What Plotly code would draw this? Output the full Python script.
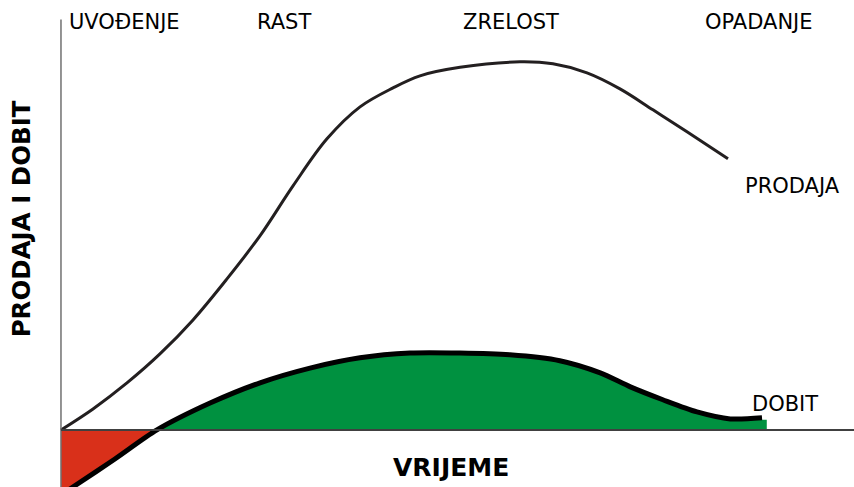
import plotly.graph_objects as go

# Time axis (arbitrary units 0..100), value axis (0..100 = peak sales)
sales_t = [0, 4.04, 8.32, 12.48, 16.65, 20.93, 25.09, 29.26, 33.54, 37.71, 41.87, 45.27, 50.32, 57.88, 62.04, 66.33, 70.49, 74.65, 78.94, 84.11]
sales_v = [0, 5.71, 12.77, 20.65, 29.89, 41.03, 52.72, 66.30, 79.08, 87.77, 92.93, 96.20, 98.51, 100, 99.46, 97.01, 92.66, 86.96, 80.98, 73.64]

loss_t = [0, 1.5, 6.8, 12.1]
loss_v = [-17.7, -15.5, -7.9, 0]

profit_t = [12.1, 18.8, 25.1, 31.4, 37.7, 44.0, 50.3, 56.6, 62.9, 68.0, 71.8, 75.9, 80.2, 84.4, 88.4]
profit_v = [0, 7.3, 12.8, 16.8, 19.6, 20.9, 20.9, 20.4, 18.8, 15.5, 11.7, 8.2, 4.9, 3.0, 3.3]
fill_end_t = 89.0

phase_labels = ["UVOĐENJE", "RAST", "ZRELOST", "OPADANJE"]
phase_t = [0.8, 24.5, 50.5, 80.9]

X_RANGE = [-7.69, 100]
Y_RANGE = [-15.5, 116.8]

fig = go.Figure()

# loss area (red)
fig.add_trace(go.Scatter(x=loss_t, y=loss_v, mode="lines", line=dict(width=0, shape="spline", smoothing=0.8),
                         fill="tozeroy", fillcolor="#d9301a", hoverinfo="skip", showlegend=False))
# profit area (green)
fig.add_trace(go.Scatter(x=profit_t + [fill_end_t], y=profit_v[:-1] + [profit_v[-1] - 0.5, profit_v[-1] - 0.5],
                         mode="lines", line=dict(width=0, shape="spline", smoothing=0.8),
                         fill="tozeroy", fillcolor="#009140", hoverinfo="skip", showlegend=False))

# axes lines
fig.add_shape(type="line", x0=0, x1=0, y0=Y_RANGE[0], y1=111.5, line=dict(color="#707070", width=1.5))
fig.add_shape(type="line", x0=0, x1=X_RANGE[1], y0=0, y1=0, line=dict(color="#404040", width=2))

# sales curve
fig.add_trace(go.Scatter(x=sales_t, y=sales_v, mode="lines",
                         line=dict(color="#231f20", width=3, shape="spline", smoothing=1.0),
                         showlegend=False))
# profit curve
fig.add_trace(go.Scatter(x=loss_t + profit_t[1:], y=loss_v + profit_v[1:], mode="lines",
                         line=dict(color="#000000", width=5, shape="spline", smoothing=0.8), showlegend=False))

font = dict(family="DejaVu Sans", size=21, color="#000000")
for lab, t in zip(phase_labels, phase_t):
    fig.add_annotation(x=t, y=110.9, text=lab, showarrow=False, xanchor="left", yanchor="middle", font=font)

fig.add_annotation(x=86.0, y=66.3, text="PRODAJA", showarrow=False, xanchor="left", yanchor="middle", font=font)
fig.add_annotation(x=86.9, y=7.0, text="DOBIT", showarrow=False, xanchor="left", yanchor="middle", font=font)
fig.add_annotation(x=49.2, y=-10.3, text="<b>VRIJEME</b>", showarrow=False, xanchor="center", yanchor="middle",
                   font=dict(family="DejaVu Sans", size=25, color="#000000"))
fig.add_annotation(x=-5.0, y=57.3, text="<b>PRODAJA I DOBIT</b>", showarrow=False, textangle=-90,
                   xanchor="center", yanchor="middle", font=dict(family="DejaVu Sans", size=24.5, color="#000000"))

fig.update_layout(
    width=854, height=487, margin=dict(l=0, r=0, t=0, b=0),
    paper_bgcolor="white", plot_bgcolor="white",
    xaxis=dict(range=X_RANGE, visible=False, fixedrange=True),
    yaxis=dict(range=Y_RANGE, visible=False, fixedrange=True),
)
fig.write_html("out.html", config={"displayModeBar": False},
               post_script="document.body.style.margin='0';document.body.style.overflow='hidden';")
